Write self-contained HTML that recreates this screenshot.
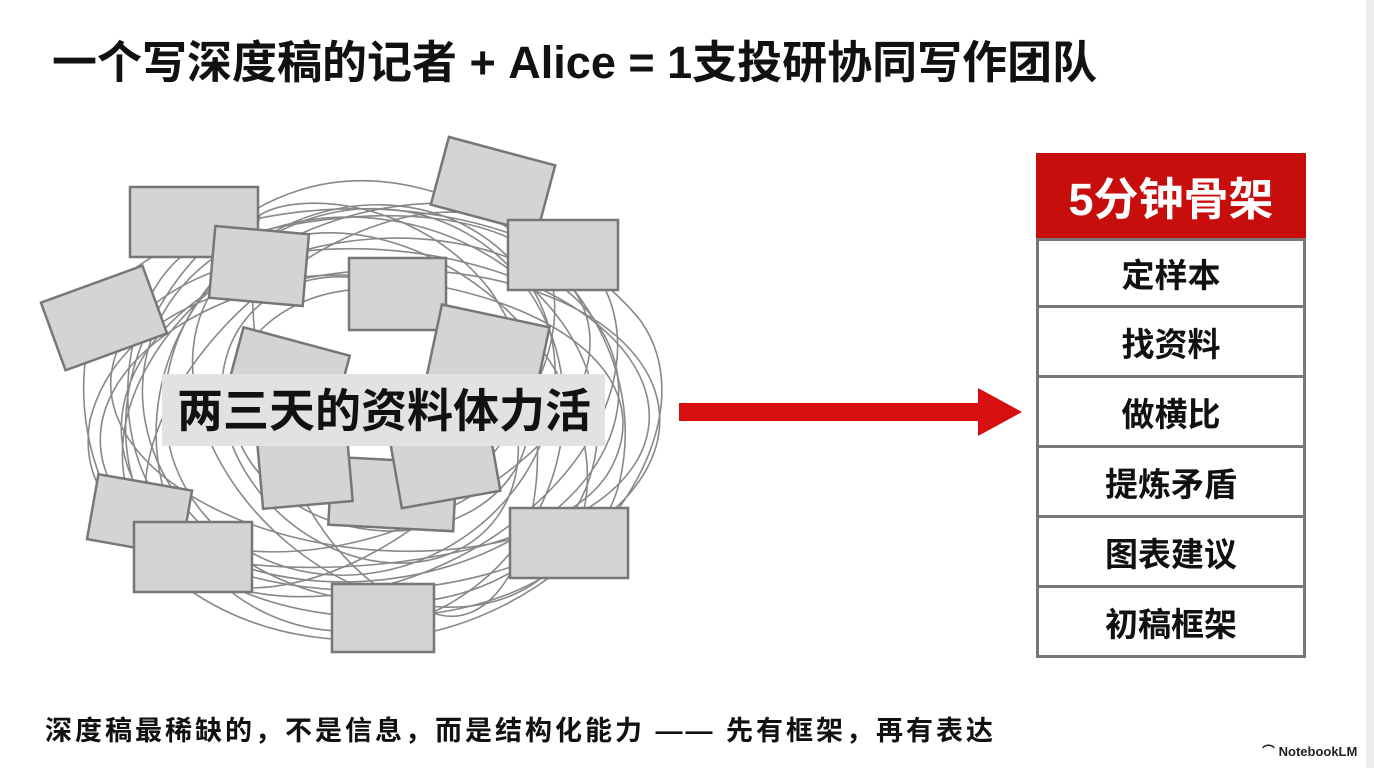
<!DOCTYPE html>
<html><head><meta charset="utf-8"><style>
body{margin:0;width:1374px;height:768px;background:#fff;overflow:hidden;position:relative;font-family:"Liberation Sans","Noto Sans CJK SC",sans-serif;}
.t{position:absolute;font-weight:bold;color:#111;white-space:nowrap;}
.col{position:absolute;left:1036px;top:153px;width:270px;}
.hd{height:85px;background:#c80d0d;color:#fff;font-size:45px;font-weight:bold;display:flex;align-items:center;justify-content:center;}
.row{height:67px;border:3px solid #777;border-top:none;font-size:33px;font-weight:bold;display:flex;align-items:center;justify-content:center;color:#111;box-sizing:content-box;}
.row.first{border-top:3px solid #777;height:64px}
</style></head><body>
<div style="position:absolute;right:0;top:0;width:8px;height:768px;background:#ececec"></div>
<div class="t" style="left:52px;top:26px;font-size:45px;">一个写深度稿的记者 + Alice = 1支投研协同写作团队</div>

<svg style="position:absolute;left:0;top:0" width="1374" height="768">
<g fill="none" stroke="#888" stroke-width="1.6">
<ellipse cx="370" cy="410" rx="250" ry="170" transform="rotate(-8 370 410)"/>
<ellipse cx="370" cy="410" rx="230" ry="190" transform="rotate(15 370 410)"/>
<ellipse cx="380" cy="400" rx="270" ry="150" transform="rotate(5 380 400)"/>
<ellipse cx="360" cy="420" rx="200" ry="215" transform="rotate(30 360 420)"/>
<ellipse cx="370" cy="400" rx="260" ry="180" transform="rotate(-25 370 400)"/>
<ellipse cx="390" cy="420" rx="220" ry="160" transform="rotate(40 390 420)"/>
<ellipse cx="350" cy="400" rx="240" ry="140" transform="rotate(-40 350 400)"/>
<ellipse cx="380" cy="430" rx="280" ry="160" transform="rotate(-3 380 430)"/>
<ellipse cx="360" cy="390" rx="180" ry="200" transform="rotate(60 360 390)"/>
<ellipse cx="380" cy="410" rx="150" ry="120" transform="rotate(10 380 410)"/>
<ellipse cx="370" cy="420" rx="130" ry="160" transform="rotate(-50 370 420)"/>
<path d="M100 300 C200 180 520 170 640 320 C720 430 570 640 360 640 C150 640 40 460 100 300Z"/>
<path d="M300 190 C460 140 660 300 620 480 C580 650 240 660 150 520 C80 400 170 230 300 190Z"/>
<path d="M190 250 C380 190 530 210 580 300 C640 420 420 570 240 550 C100 530 100 310 190 250Z"/>
<path d="M260 215 C230 350 290 580 440 615 C530 635 580 420 490 290 C420 200 300 190 260 215Z"/>
<path d="M90 420 C120 300 280 260 400 280 C560 300 660 380 610 470 C560 560 300 590 180 550 C110 520 80 480 90 420Z"/>
</g>
<g fill="#d4d4d4" stroke="#777" stroke-width="2.5">
<rect x="130" y="187" width="128" height="70"/>
<rect x="438" y="150" width="110" height="70" transform="rotate(15 493 185)"/>
<rect x="50" y="282" width="108" height="72" transform="rotate(-20 104 318)"/>
<rect x="212" y="230" width="94" height="72" transform="rotate(5 259 266)"/>
<rect x="349" y="258" width="97" height="72"/>
<rect x="508" y="220" width="110" height="70"/>
<rect x="230" y="340" width="110" height="90" transform="rotate(15 285 385)"/>
<rect x="432" y="315" width="110" height="85" transform="rotate(12 487 357)"/>
<rect x="330" y="460" width="125" height="68" transform="rotate(3 392 494)"/>
<rect x="395" y="430" width="100" height="70" transform="rotate(-10 445 465)"/>
<rect x="260" y="440" width="90" height="65" transform="rotate(-5 305 472)"/>
<rect x="92" y="482" width="95" height="66" transform="rotate(10 140 515)"/>
<rect x="134" y="522" width="118" height="70"/>
<rect x="510" y="508" width="118" height="70"/>
<rect x="332" y="584" width="102" height="68"/>
</g>
<rect x="162" y="374" width="443" height="72" fill="#e2e2e2"/>
<text x="384" y="427" text-anchor="middle" font-family="Liberation Sans,Noto Sans CJK SC,sans-serif" font-weight="bold" font-size="46" fill="#111">两三天的资料体力活</text>
<rect x="679" y="403" width="302" height="18" fill="#d80f0f"/>
<polygon points="978,388 1022,412 978,436" fill="#d80f0f"/>
</svg>

<div class="col">
<div class="hd">5分钟骨架</div>
<div class="row first">定样本</div>
<div class="row">找资料</div>
<div class="row">做横比</div>
<div class="row">提炼矛盾</div>
<div class="row">图表建议</div>
<div class="row">初稿框架</div>
</div>

<div class="t" style="left:45px;top:709px;font-size:27px;letter-spacing:3px;">深度稿最稀缺的，不是信息，而是结构化能力 —— 先有框架，再有表达</div>
<div class="t" style="left:1262px;top:741px;font-size:13px;color:#222;">⌒ NotebookLM</div>
</body></html>
